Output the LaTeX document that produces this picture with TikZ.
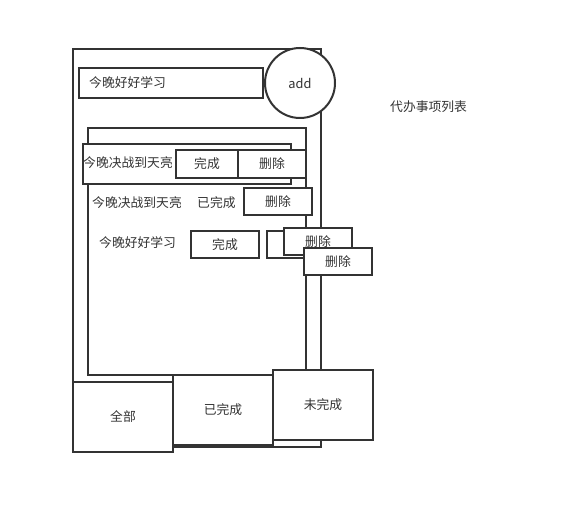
\documentclass[tikz,border=0pt]{standalone}
\usepackage{fontspec}
\setmainfont{Noto Sans CJK SC}
\definecolor{lc}{RGB}{51,51,51}
\begin{document}
\begin{tikzpicture}[x=1pt,y=-1pt,
  box/.style={draw=lc, line width=2pt, fill=white, inner sep=0pt, anchor=north west, text=lc, font=\fontsize{12.8}{14}\selectfont},
  lbl/.style={text=lc, inner sep=0pt, font=\fontsize{12.8}{14}\selectfont}]
\useasboundingbox (0,0) rectangle (571,513);
\fill[white] (0,0) rectangle (571,513);
% outer frame
\node[box, minimum width=248pt, minimum height=398pt] (outer) at (72,48) {};
% input
\node[box, minimum width=184pt, minimum height=30pt] (input) at (78,67) {};
\node[lbl, anchor=west] (inputtxt) at (89,83) {今晚好好学习};
% add circle
\node[draw=lc, line width=2pt, fill=white, circle, minimum size=70pt, inner sep=0pt, text=lc, font=\fontsize{12.8}{14}\selectfont] (add) at (300,83) {add};
% title
\node[lbl, anchor=west] (title) at (390,107) {代办事项列表};
% inner list
\node[box, minimum width=218pt, minimum height=247pt] (list) at (87,127) {};
% row 1
\node[box, minimum width=208pt, minimum height=40pt] (row1) at (82,143) {};
\node[lbl, anchor=west] (row1txt) at (83,163) {今晚决战到天亮};
\node[box, minimum width=62pt, minimum height=28pt] (done1) at (175,149) {完成};
\node[box, minimum width=68pt, minimum height=28pt] (del1) at (237,149) {删除};
% row 2
\node[lbl, anchor=west] (row2txt) at (92,203) {今晚决战到天亮};
\node[lbl, anchor=west] (row2st) at (197,203) {已完成};
\node[box, minimum width=68pt, minimum height=27pt] (del2) at (243,187) {删除};
% row 3
\node[lbl, anchor=west] (row3txt) at (99,243) {今晚好好学习};
\node[box, minimum width=68pt, minimum height=27pt] (done3) at (190,230) {完成};
\node[box, minimum width=68pt, minimum height=27pt] (empty3) at (266,230) {};
\node[box, minimum width=68pt, minimum height=27pt] (del3) at (283,227) {删除};
\node[box, minimum width=68pt, minimum height=27pt] (del4) at (303,247) {删除};
% bottom tabs
\node[box, minimum width=100pt, minimum height=70pt] (all) at (72,381) {全部};
\node[box, minimum width=100pt, minimum height=70pt] (finished) at (172,374) {已完成};
\node[box, minimum width=100pt, minimum height=70pt] (unfinished) at (272,369) {未完成};
\end{tikzpicture}
\end{document}
